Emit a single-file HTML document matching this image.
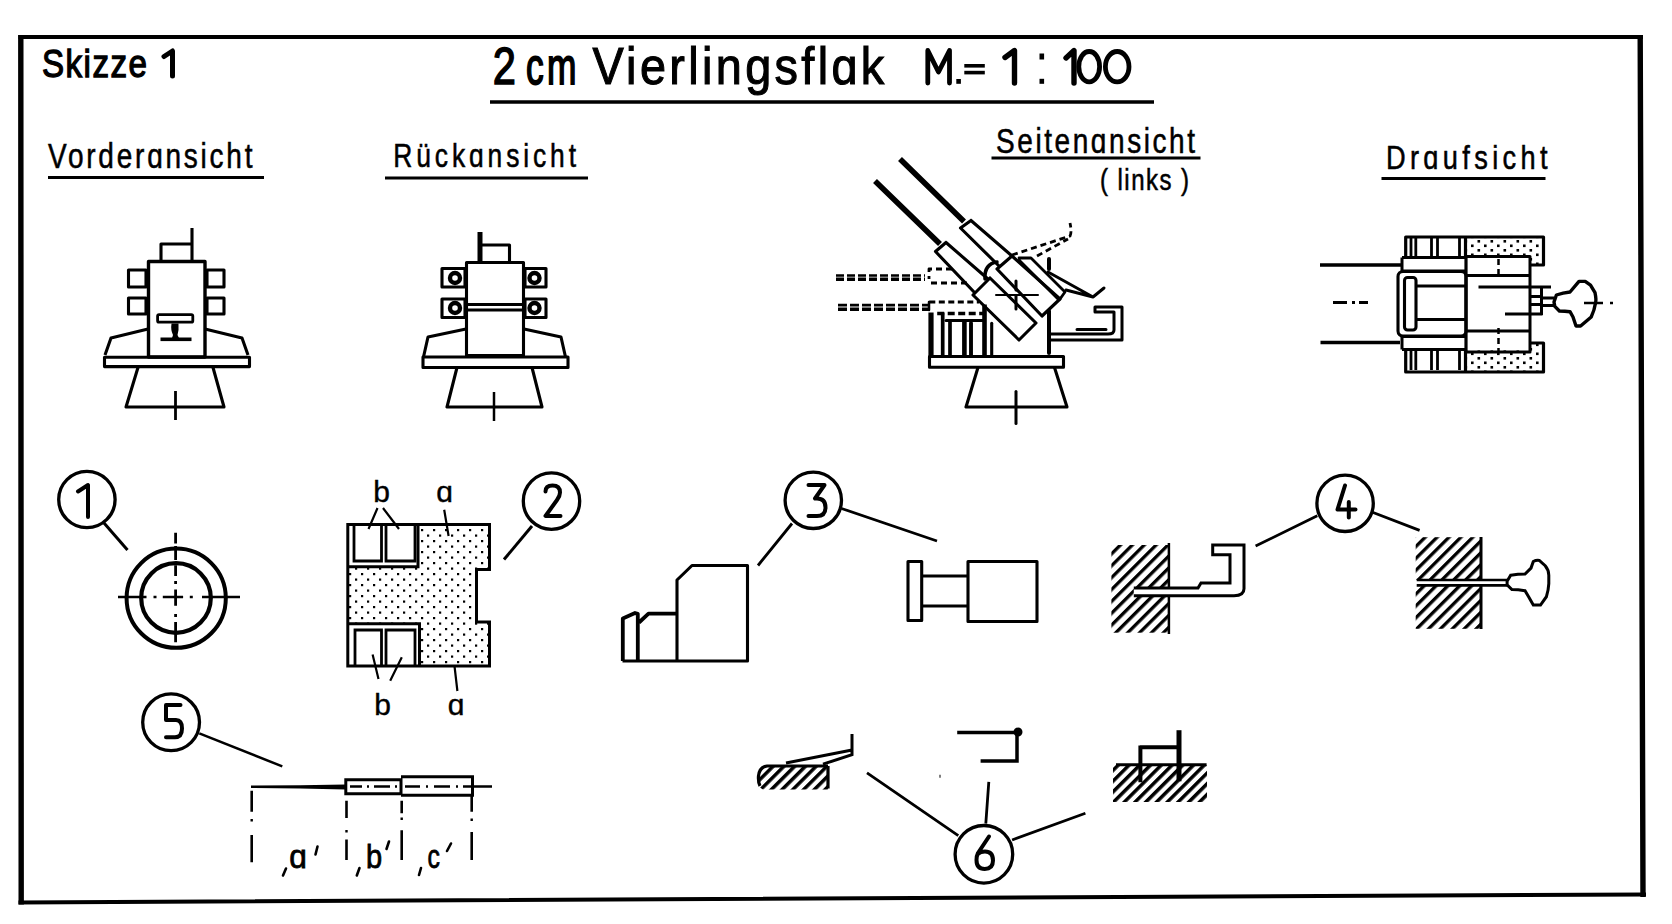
<!DOCTYPE html>
<html><head><meta charset="utf-8"><title>Skizze 1</title>
<style>
html,body{margin:0;padding:0;background:#fff;width:1672px;height:924px;overflow:hidden}
svg{position:absolute;left:0;top:0;display:block}
text{font-family:"Liberation Sans",sans-serif;fill:#000;stroke:#000;stroke-width:0}
.hd text{stroke-width:1.1px}
.num text{stroke-width:1px}
.lbl text{stroke-width:0}
</style></head><body>
<svg width="1672" height="924" viewBox="0 0 1672 924">
<g fill="none" stroke="#000" stroke-linecap="square" stroke-linejoin="miter">
<!-- border -->
<path d="M18.5,37 L1643,37 M18.5,902.5 L1646,894.5" stroke-width="4" stroke-linecap="butt"/>
<path d="M20.8,35 L21.2,904.5 M1640.2,35 L1643,897" stroke-width="5.4" stroke-linecap="butt"/>
</g>

<!-- TEXTS START -->
<g id="texts" class="hd">
<text transform="translate(42,77) scale(0.85,1)" font-size="39" textLength="123.5" lengthAdjust="spacing" style="stroke-width:1.3px">Skizze</text>
<text transform="translate(492.7,83.8) scale(0.8,1)" font-size="52" style="stroke-width:1.5px">2</text>
<text transform="translate(526,83.8) scale(0.68,1)" font-size="52" textLength="74.3" lengthAdjust="spacing" style="stroke-width:1.8px">cm</text>
<text transform="translate(592.4,83.8) scale(0.9,1)" font-size="52" textLength="324.3" lengthAdjust="spacing" style="stroke-width:1.1px">Vierlingsflɑk</text>
<text transform="translate(48,167.7) scale(0.8,1)" font-size="35" textLength="255.6" lengthAdjust="spacing" style="stroke-width:0.55px">Vorderɑnsicht</text>
<text transform="translate(393.3,166.8) scale(0.8,1)" font-size="33" textLength="228.4" lengthAdjust="spacing" style="stroke-width:0.55px">Rückɑnsicht</text>
<text transform="translate(996,152.7) scale(0.8,1)" font-size="35" textLength="248.8" lengthAdjust="spacing" style="stroke-width:0.55px">Seitenɑnsicht</text>
<text transform="translate(1100,189.5) scale(0.8,1)" font-size="30" textLength="111.2" lengthAdjust="spacing" style="stroke-width:0.55px">( links )</text>
<text transform="translate(1386,168.6) scale(0.8,1)" font-size="34" textLength="201.9" lengthAdjust="spacing" style="stroke-width:0.55px">Drɑufsicht</text>
<g fill="none" stroke="#000" stroke-width="4.8" stroke-linejoin="round" stroke-linecap="round" style="stroke-width:4.8px">
<path d="M927.8,83 V50.5 L938.5,72 L949.5,50.5 V83"/>
<path d="M164,56.5 L172.5,51 V76" stroke-width="5" style="stroke-width:5px"/>
<path d="M1005,57.5 L1014.5,50.5 V83" stroke-width="5.4" style="stroke-width:5.4px"/>
<path d="M1066,58 L1074,50.5 V83" stroke-width="5.4" style="stroke-width:5.4px"/>
<ellipse cx="1089.2" cy="66.7" rx="10.4" ry="15.2"/>
<ellipse cx="1117.2" cy="66.7" rx="11.8" ry="15.2"/>
</g>
<g fill="#000" stroke="none">
<rect x="956.3" y="79" width="4.6" height="4.8"/>
<rect x="964.3" y="64" width="20.5" height="3.6"/>
<rect x="964.3" y="70.8" width="20.5" height="3.6"/>
<rect x="1039.5" y="53.5" width="4.6" height="6"/>
<rect x="1039.5" y="78.8" width="4.6" height="5"/>
</g>
</g>
<!-- TEXTS END -->
<g fill="none" stroke="#000" stroke-width="3">
<path d="M490,102 H1154" stroke-width="3.5"/>
<path d="M48,177.5 H264 M385,178 H588 M991.5,158 H1200.5 M1381.5,178.5 H1545.5"/>
</g>

<!-- Vorderansicht -->
<g fill="none" stroke="#000" stroke-width="3.1" stroke-linejoin="round">
<path d="M192,228 V261 M161,261 V244 H192"/>
<rect x="148.5" y="261.5" width="56.5" height="95.5" stroke-width="3.4"/>
<rect x="128.5" y="270" width="17.5" height="17"/>
<rect x="128.5" y="298" width="17.5" height="16"/>
<rect x="207" y="270" width="17" height="17"/>
<rect x="207" y="298" width="17" height="16"/>
<rect x="157.6" y="314.6" width="35.2" height="7.6" rx="1.5" stroke-width="2.8"/>
<path d="M171.5,323.5 Q170.5,330 173,335 L172,338 H179 L177.5,335 Q179,330 178.5,323.5 Z" fill="#000" stroke="none"/>
<path d="M160.5,339.3 H191.5" stroke-width="3.6"/>
<path d="M148,329 L111,338 L105,355 M205,329 L242,338 L248,355"/>
<rect x="104.5" y="357.2" width="145" height="9.4"/>
<path d="M138,367.5 L126,407 H224 L213,367.5"/>
<path d="M175.5,391 V420" stroke-width="2.8"/>
</g>

<!-- Rueckansicht -->
<g fill="none" stroke="#000" stroke-width="3.1" stroke-linejoin="round">
<path d="M480,232 V262" stroke-width="5"/>
<path d="M480,245 H509.5 V262"/>
<rect x="466.5" y="262.5" width="57" height="93"/>
<path d="M466.5,304.5 H523.5 M466.5,310 H523.5"/>
<rect x="442" y="268.5" width="23" height="18.5"/>
<rect x="442" y="299" width="23" height="18.5"/>
<rect x="525" y="268.5" width="21" height="18.5"/>
<rect x="525" y="299" width="21" height="18.5"/>
<circle cx="455" cy="278" r="5" stroke-width="4.4"/>
<circle cx="455" cy="308" r="5" stroke-width="4.4"/>
<circle cx="534.5" cy="278" r="5" stroke-width="4.4"/>
<circle cx="534.5" cy="308" r="5" stroke-width="4.4"/>
<path d="M466,329 L428,337 L423.5,357 M524,329 L561,337 L565.5,357"/>
<rect x="423" y="357" width="145" height="10.5"/>
<path d="M457,367.5 L447,407 H542 L532,367.5"/>
<path d="M494,392 V421" stroke-width="2.5"/>
</g>


<!-- Seitenansicht -->
<g fill="none" stroke="#000" stroke-width="3.1" stroke-linejoin="round" stroke-linecap="round">
<path d="M900,159 L964,221.5 M875,181 L940,244" stroke-width="5.6" stroke-linecap="butt"/>
<!-- upper jacket -->
<path d="M971,220.5 L960.5,228 L999,266 M971,220.5 L1012,256"/>
<!-- lower jacket -->
<path d="M946,242.5 L935.5,251.5 L974,292 M946,242.5 L988,279"/>
<!-- upper block -->
<path d="M1012,256 L997,269 L1042,316 L1060,299 L1012,256"/>
<path d="M1019,258 H1031 L1065,292 L1060,299 M1019,260 L1058,299" stroke-width="2.8"/>
<!-- lower block -->
<path d="M990,278 L973,295 L1019,340 L1036,323 L990,278"/>
<path d="M985,279 Q984,264 997,262" stroke-width="3.5"/>
<!-- crosshair -->
<path d="M996,295 H1038" stroke-width="2"/>
<path d="M1016,281 V290 M1016,296 V309" stroke-width="3"/>
<!-- dashed upper right -->
<path d="M1012,255 L1070,236 Q1072,232 1070,223" stroke-width="2.8" stroke-dasharray="6,4" stroke-linecap="butt"/>
<path d="M1037,256 L1068,239" stroke-width="2.8" stroke-dasharray="6,4" stroke-linecap="butt"/>
<path d="M1049,259 V269" stroke-width="4"/>
<!-- feed plate -->
<path d="M1048,272 L1093,297 L1104,288 M1066,290 L1093,297" stroke-width="3"/>
<!-- dashed left -->
<path d="M836,275.5 H925" stroke-width="2.6" stroke-dasharray="8,3" stroke-linecap="butt"/>
<path d="M836,279.3 H925" stroke-width="3.4" stroke-dasharray="8,3" stroke-linecap="butt"/>
<path d="M838,305.2 H928" stroke-width="2.8" stroke-dasharray="9,3" stroke-linecap="butt"/>
<path d="M838,309.2 H928" stroke-width="3.6" stroke-dasharray="9,3" stroke-linecap="butt"/>
<path d="M952,269 H929 V279 M931,283 H967" stroke-width="2.8" stroke-dasharray="6,4" stroke-linecap="butt"/>
<path d="M929.3,302 H979" stroke-width="3.2" stroke-dasharray="6,3.5" stroke-linecap="butt"/>
<path d="M937.2,313.5 H983" stroke-width="3.4" stroke-dasharray="7,3.5" stroke-linecap="butt"/>
<path d="M929,302 V310" stroke-width="2.5"/>
<!-- ribs -->
<path d="M931,312.5 V356" stroke-width="5.2" stroke-linecap="butt"/>
<path d="M942.7,312.5 V356 M950,320.4 V356" stroke-width="3.7" stroke-linecap="butt"/>
<path d="M964.4,321.5 V356 M984.5,304.4 V356" stroke-width="4.6" stroke-linecap="butt"/>
<path d="M971,323 V354.5" stroke-width="3.9"/>
<path d="M991.7,323.3 V354.5" stroke-width="3.1"/>
<path d="M946,320.5 H983" stroke-width="3"/>
<!-- body right -->
<path d="M1049,311 V353" stroke-width="4"/>
<!-- handle -->
<path d="M1049,340 H1122 V307 H1095 V312 H1114 V330 Q1114,334 1108,334 H1049 M1077,329.5 H1106" stroke-width="3"/>
<!-- platform and base -->
<rect x="929.5" y="356.5" width="134" height="10.8"/>
<path d="M978,367.5 L966,407 H1067 L1054.5,367.5"/>
<path d="M1016,391.5 V423.5" stroke-width="3"/>
</g>


<!-- Draufsicht -->
<defs>
<pattern id="dots" x="0" y="0" width="13" height="9" patternUnits="userSpaceOnUse">
<rect x="2" y="1.5" width="2.6" height="2.6" fill="#000"/>
<rect x="8.5" y="6" width="2.6" height="2.6" fill="#000"/>
</pattern>
<pattern id="dots2" x="0" y="0" width="12" height="11" patternUnits="userSpaceOnUse">
<rect x="1" y="1" width="2.2" height="2.2" fill="#000"/>
<rect x="7" y="6.5" width="2.2" height="2.2" fill="#000"/>
</pattern>
</defs>
<g fill="none" stroke="#000" stroke-width="3.1" stroke-linejoin="round">
<path d="M1320,265 H1401 M1320.5,342.5 H1400" stroke-width="3.5"/>
<path d="M1333,302.5 H1347 M1352,302.5 H1355 M1359,302.5 H1368" stroke-width="3"/>
<!-- top magazine -->
<path d="M1466,238 H1543 V265 H1530 V256.5 H1466 Z" fill="url(#dots)" stroke="none"/>
<path d="M1405.7,257.5 V237 H1543.5 V265 H1530" stroke-width="3.2"/>
<path d="M1411,238 V256 M1415.8,238 V256 M1431.5,238 V256 M1437.5,238 V256 M1459.5,238 V256" stroke-width="2.8"/>
<path d="M1465.5,237 V257" stroke-width="3.2"/>
<!-- bottom magazine -->
<path d="M1466,350 H1530 V343 H1543 V372 H1466 Z" fill="url(#dots)" stroke="none"/>
<path d="M1405.7,349.5 V372 H1543.5 V343 H1530" stroke-width="3.2"/>
<path d="M1411,351 V370 M1415.8,351 V370 M1431.5,351 V370 M1437.5,351 V370 M1459.5,351 V370" stroke-width="2.8"/>
<path d="M1465.5,350 V372" stroke-width="3.2"/>
<!-- bands -->
<path d="M1402,257.5 H1466 M1402,257.5 V271 M1402,349.5 V336" stroke-width="3"/>
<path d="M1401,271 H1466 M1401,336.5 H1466 M1402,349.5 H1466" stroke-width="3"/>
<rect x="1398" y="271.5" width="68" height="64.5" rx="5"/>
<rect x="1404.5" y="277.5" width="11.5" height="52.5" rx="3"/>
<path d="M1416,286 H1466 M1416,319.5 H1466" stroke-width="3"/>
<path d="M1466,256.5 V352" stroke-width="3.2"/>
<!-- right block -->
<path d="M1466,256.5 H1530 V352 H1466" stroke-width="3"/>
<path d="M1466,275.5 H1530 M1466,331 H1530" stroke-width="3"/>
<path d="M1498.5,259 V277" stroke-width="2.5" stroke-dasharray="6,4"/>
<path d="M1498.5,328 V351" stroke-width="2.5" stroke-dasharray="6,4"/>
<path d="M1478.5,287 H1551 M1505,314 H1542.5" stroke-width="3"/>
<path d="M1541.5,287 V315 M1530.5,296.5 H1541.5 M1530.5,304.5 H1541.5" stroke-width="3"/>
<path d="M1541.5,298 H1554 M1541.5,305.6 H1554" stroke-width="3"/>
<path d="M1554,302 L1556.4,295 Q1563,292.8 1570,292 L1579,281.4 H1585.2 L1590.5,285.2 L1595,292.7 Q1596.5,300 1595.5,303 Q1594.5,310 1591.2,317 L1580.6,326 H1576 L1573,317 L1570,311.7 Q1565,311 1559.4,311 L1554.8,306.4 Z" stroke-width="3.4"/>
<path d="M1584,303 H1603 M1610,303 H1613" stroke-width="2.5"/>
</g>


<!-- numbered details -->
<defs>
<pattern id="hatch" patternUnits="userSpaceOnUse" width="8.4" height="8.4" patternTransform="rotate(-45)">
<rect x="0" y="0" width="8.4" height="3.3" fill="#000"/>
</pattern>
<pattern id="hatch2" patternUnits="userSpaceOnUse" width="7.6" height="7.6" patternTransform="rotate(-45)">
<rect x="0" y="0" width="7.6" height="3.5" fill="#000"/>
</pattern>
</defs>
<g fill="none" stroke="#000" stroke-width="3.3">
<circle cx="86.9" cy="499.5" r="28.2"/>
<circle cx="551.5" cy="501.1" r="28.2"/>
<circle cx="813.3" cy="500.3" r="28.2"/>
<circle cx="1345.1" cy="503.3" r="28.2"/>
<circle cx="171.1" cy="722.3" r="28.4"/>
<circle cx="983.9" cy="854.3" r="28.8"/>
<!-- leaders -->
<path d="M104,523 L127.5,550" stroke-width="3"/>
<path d="M532,526 L504,559.5" stroke-width="3"/>
<path d="M792,523.5 L758,565.5 M841.5,508.5 L937,541" stroke-width="2.8"/>
<path d="M1317.3,515.8 L1255.6,546 M1371.8,512 L1419.6,530.4" stroke-width="2.8"/>
<path d="M199.3,733.4 L282.3,766.4" stroke-width="2.5"/>
<path d="M958.3,835.6 L867,772.8 M985.8,823.6 L988.8,781.8 M1012.1,840 L1085.4,813.2" stroke-width="2.8"/>
</g>
<g fill="none" stroke="#000" stroke-width="4" stroke-linejoin="round" stroke-linecap="round">
<path d="M78,491.5 L88,485 V517"/>
<path d="M545.5,491.5 Q545.5,485.5 552.5,485.5 Q560,485.5 560,492.5 Q560,496 557,500 L545.5,516 H560.5"/>
<path d="M808.5,485 H824.5 L815,498.5 H817 Q825.5,498.5 825.5,507.5 Q825.5,516 817,516 H808.5"/>
<path d="M1345,485.5 L1337.5,509.5 H1355.5 M1348.8,502 V517.5"/>
<path d="M180.5,705 H166 V720 H176 Q182,720 182,728.5 Q182,737.2 175,737.2 H166"/>
<path d="M989,836.5 L978,853 Q976.5,856 976.5,860 Q976.5,869 984.7,869 Q993,869 993,860.5 Q993,851.5 985,851.5 Q980,851.5 978,854"/>
</g>
<!-- detail 1: ring -->
<g fill="none" stroke="#000" stroke-width="3">
<circle cx="176.2" cy="598.2" r="49.6" stroke-width="4"/>
<circle cx="176" cy="598" r="34.8" stroke-width="4.2"/>
<path d="M118,597 H146.5 M153.5,597 H156.5 M162.8,597 H183.1 M189.8,597 H192.8 M202,597 H240" stroke-width="2.7"/>
<path d="M175.6,532.7 V543.5 M175.6,546 V560 M175.6,565.2 V576 M175.6,581 V584 M175.6,589.5 V605.8 M175.6,614 V617 M175.6,622 V642.3" stroke-width="2.8"/>
</g>

<!-- detail 2 -->
<g>
<path d="M418,524.5 H489.5 V569.5 H476.5 V622 H489.5 V666 H419.5 V623.5 H347.8 V566.7 H418 Z" fill="url(#dots2)"/>
<g fill="none" stroke="#000" stroke-width="3">
<path d="M347.8,524.5 H489.5 V569.5 H476.5 V622 H489.5 V666 H347.8 Z"/>
<path d="M418,524.5 V566.7 H347.8 M419.5,666 V623.7 H347.8"/>
<path d="M354,526 V561 H381.5 V526 M386,526 V561 H415 V526" stroke-width="2.8"/>
<path d="M355,666 V630 H381.5 V666 M386,666 V630 H415 V666" stroke-width="2.8"/>
<path d="M377.5,508 L368.5,529 M383,508 L399,529 M444.2,509.7 L448.6,536" stroke-width="2.2"/>
<path d="M372.6,654.4 L378.5,679 M401.8,657.3 L390.2,680.7 M454.5,666 L457.4,691" stroke-width="2.2"/>
</g>
<g font-size="30" text-anchor="middle" class="lbl">
<text x="381.5" y="502.3" style="stroke-width:0.4px">b</text>
<text x="444.5" y="502.3" style="stroke-width:0.4px">ɑ</text>
<text x="382.5" y="714.5" style="stroke-width:0.4px">b</text>
<text x="456" y="714.5" style="stroke-width:0.4px">ɑ</text>
</g>
</g>

<!-- detail 3 -->
<g fill="none" stroke="#000" stroke-width="3.1" stroke-linejoin="round">
<path d="M677,661 V580 L692,565.5 H747.5 V661 H622.5"/>
<path d="M622.8,661 V618.5 L635,613 L637.8,613.8 V661 M639,622.5 L648.5,613.6 H677" stroke-width="3.8"/>
<rect x="908" y="561.5" width="13.7" height="59"/>
<path d="M921.7,576 H968 M921.7,606 H968"/>
<rect x="968" y="561.5" width="69" height="60"/>
</g>

<!-- detail 4 -->
<g>
<rect x="1111.4" y="545" width="57.5" height="87.7" fill="url(#hatch)"/>
<rect x="1415.7" y="537.2" width="65.3" height="91.6" fill="url(#hatch)"/>
<g fill="none" stroke="#000" stroke-width="3">
<path d="M1168.9,543 V634" stroke-width="2.5"/>
<path d="M1133.8,591.8 H1236" stroke="#fff" stroke-width="8"/>
<path d="M1133.8,588 H1198 L1201,583 H1230 V554.7 H1212.7 V545 H1244 V588.8 Q1244,595.7 1234,595.7 H1133.8" stroke-width="3"/>
<path d="M1481,537 V629" stroke-width="3"/>
<path d="M1414,582.7 H1507.3" stroke="#fff" stroke-width="6"/>
<path d="M1416.7,580 H1507.5 M1416.7,585.4 H1507.5" stroke-width="2.6"/>
<path d="M1507.1,581.2 L1510.7,575.2 Q1518,574 1525,574 L1531,568.1 L1533.3,561.5 Q1536,560 1539.3,560.4 L1545.2,565.7 Q1548.8,570 1548.8,575.2 V583.6 Q1548.5,590 1546.4,596.7 L1540.5,605 H1533.3 L1528.6,596.7 L1525,590.7 Q1518,589.5 1511.9,589.5 L1507.1,584.8 Z" stroke-width="3"/>
</g>
</g>

<!-- detail 5 -->
<g fill="none" stroke="#000" stroke-width="3">
<path d="M251,785.6 L300,785.2 L345.8,784.6 V789.6 L300,788.6 L251,788 Z" fill="#000" stroke="none"/>
<path d="M345.8,779.8 H401 V793.8 H345.8 Z M401,776.7 H472.5 V795.3 H401" stroke-width="3"/>
<path d="M350,786.5 H362 M367,786.5 H369 M374,786.5 H390 M395,786.5 H397 M405,786.5 H420 M426,786.5 H428 M434,786.5 H450 M456,786.5 H458 M463,786.5 H492" stroke-width="2.4"/>
<path d="M251.7,790.7 V811.7 M251.7,835 V862.2 M346.5,800.8 V817.9 M346.5,839.6 V859.9 M401.7,800.8 V813.2 M401.7,830.3 V859.9 M471.7,794.5 V811.7 M471.7,831.9 V859.9" stroke-width="2.6"/>
<path d="M251.7,819 V821.5 M346.5,830 V832.5 M401.7,817.5 V820 M471.7,818.5 V821" stroke-width="2.4"/>
<path d="M286,868.5 L283,875.5 M359.5,868 L356.8,875.5 M421,868 L419,875 M317.5,846.5 L315.5,854.5 M389,841.5 L386.5,849 M451,843.5 L447,851" stroke-width="2.6" stroke-linecap="round"/>
</g>
<g class="lbl" style="stroke-width:0.5px">
<text style="stroke-width:0.8px" transform="translate(289.2,868.4) scale(0.88,1)" font-size="34" textLength="20" lengthAdjust="spacingAndGlyphs">ɑ</text>
<text style="stroke-width:0.8px" transform="translate(366,868.4) scale(0.85,1)" font-size="33" textLength="19" lengthAdjust="spacingAndGlyphs">b</text>
<text style="stroke-width:0.8px" transform="translate(427.5,868.4) scale(0.8,1)" font-size="34" textLength="15.5" lengthAdjust="spacingAndGlyphs">c</text>
</g>

<!-- detail 6 -->
<g>
<path d="M767,766 H828 V789.5 H763 Q757,787 757.5,778 Q759,767 767,766 Z" fill="url(#hatch2)"/>
<rect x="1113" y="765" width="94" height="37" fill="url(#hatch2)"/>
<g fill="none" stroke="#000" stroke-width="3">
<path d="M852,734 V754.6 L823,764.2 M852,750 L786,763" stroke-width="3"/>
<path d="M828,766 V788.5 M828,766 H767 Q759.5,767 758.5,776 Q758,782 760,786" stroke-width="3.2"/>
<path d="M957.2,732.6 H1017 V761 H980.6" stroke-width="3.5"/>
<circle cx="1018" cy="732" r="3" fill="#000"/>
<path d="M939.5,776.3 h1" stroke-width="3"/>
<path d="M1116,764.8 H1206.6" stroke-width="3"/>
<path d="M1179,730.2 V781.3" stroke-width="5"/>
<path d="M1140,747.3 H1179 M1140.4,745.5 V782.3" stroke-width="4"/>
</g>
</g>

</svg>
</body></html>
